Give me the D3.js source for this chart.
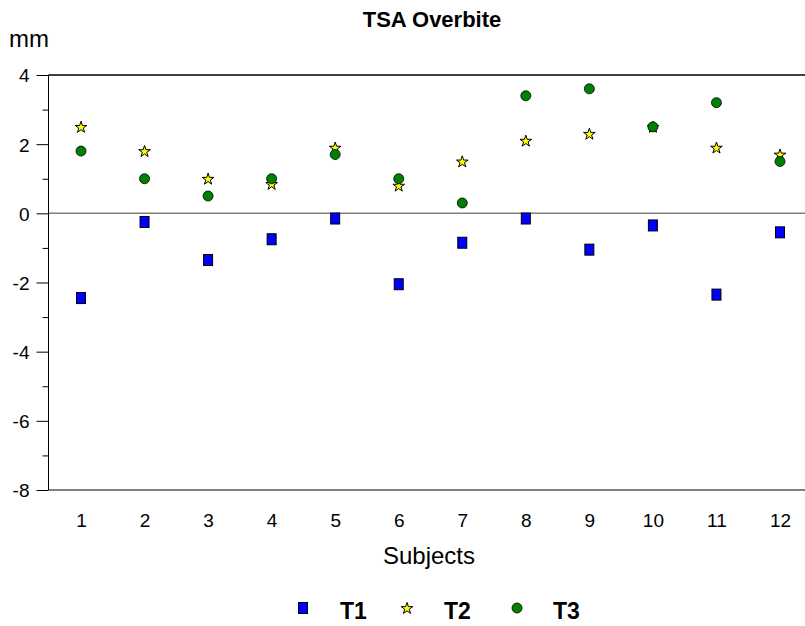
<!DOCTYPE html>
<html><head><meta charset="utf-8">
<script src="https://cdn.jsdelivr.net/npm/d3@7"></script>
<style>body{margin:0;background:#fff}svg{display:block;font-family:"Liberation Sans",Arial,sans-serif}</style>
</head><body>
<script>
const subjects = [1,2,3,4,5,6,7,8,9,10,11,12];
const t1 = [-2.45,-0.25,-1.35,-0.75,-0.15,-2.05,-0.85,-0.15,-1.05,-0.35,-2.35,-0.55];
const t2 = [2.5,1.8,1.0,0.85,1.9,0.8,1.5,2.1,2.3,2.5,1.9,1.7];
const t3 = [1.8,1.0,0.5,1.0,1.7,1.0,0.3,3.4,3.6,2.5,3.2,1.5];
const yMajor = [4,2,0,-2,-4,-6,-8];
const yMinor = [3,1,-1,-3,-5,-7];
const seriesNames = ["T1","T2","T3"];

const W=805,H=626;
const FF="Liberation Sans, Arial, sans-serif";
const svg=d3.select("body").append("svg").attr("width",W).attr("height",H);
const x=d3.scalePoint().domain(subjects).range([81,780]);
const y=d3.scaleLinear().domain([-8,4]).range([490,75]);
const axL=48.5;

// top border
svg.append("line").attr("x1",axL).attr("x2",W).attr("y1",y(4)).attr("y2",y(4)).attr("stroke","#000").attr("stroke-width",1.5);
// zero line
svg.append("line").attr("x1",axL).attr("x2",W).attr("y1",y(0)).attr("y2",y(0)).attr("stroke","#808080").attr("stroke-width",1.5);
// bottom line
svg.append("line").attr("x1",axL).attr("x2",W).attr("y1",y(-8)).attr("y2",y(-8)).attr("stroke","#808080").attr("stroke-width",2);

// y axis
const ya=svg.append("g").attr("transform",`translate(${axL},0)`)
  .call(d3.axisLeft(y).tickValues(yMajor).tickSize(12).tickPadding(7).tickFormat(d=>String(d)));
ya.select(".domain").attr("stroke","#000").attr("d",`M0,${y(4)}V${y(-8)}`);
ya.selectAll("text").attr("font-size",19).attr("fill","#000").attr("font-family",FF).attr("dy","0.36em");
ya.selectAll(".tick line").attr("stroke","#000");
svg.append("g").attr("transform",`translate(${axL},0)`)
  .call(d3.axisLeft(y).tickValues(yMinor).tickSize(6).tickFormat(""))
  .call(g=>g.select(".domain").remove())
  .selectAll("line").attr("stroke","#000");

// x axis labels
const xa=svg.append("g").attr("transform",`translate(0,${y(-8)})`)
  .call(d3.axisBottom(x).tickSize(0).tickPadding(0));
xa.select(".domain").remove();
xa.selectAll("text").attr("font-size",19).attr("fill","#000").attr("font-family",FF).attr("dy",null).attr("y",37);

// titles
svg.append("text").attr("x",432).attr("y",27).attr("text-anchor","middle").attr("font-size",22).attr("font-weight","bold").attr("font-family",FF).text("TSA Overbite");
svg.append("text").attr("x",9).attr("y",47).attr("font-size",24).attr("font-family",FF).text("mm");
svg.append("text").attr("x",429).attr("y",564).attr("text-anchor","middle").attr("font-size",24).attr("font-family",FF).text("Subjects");

const star=d3.symbol().type(d3.symbolStar).size(42);
function drawSq(g,cx,cy){g.append("rect").attr("x",cx-4.5).attr("y",cy-5.5).attr("width",9).attr("height",11).attr("fill","#0000ff").attr("stroke","#000").attr("stroke-width",1);}
function drawStar(g,cx,cy){g.append("path").attr("d",star()).attr("transform",`translate(${cx},${cy+0.5})`).attr("fill","#ffff00").attr("stroke","#000").attr("stroke-width",1);}
function drawCirc(g,cx,cy){g.append("circle").attr("cx",cx).attr("cy",cy).attr("r",5).attr("fill","#008000").attr("stroke","#000").attr("stroke-width",0.8);}

const pts=svg.append("g");
subjects.forEach((s,i)=>drawSq(pts,x(s),y(t1[i])));
subjects.forEach((s,i)=>drawStar(pts,x(s),y(t2[i])));
subjects.forEach((s,i)=>drawCirc(pts,x(s),y(t3[i])));

// legend
const lg=svg.append("g");
const ly=608;
const legendX=[303,407,517];
const textX=[340,444,553];
const drawers=[drawSq,drawStar,drawCirc];
seriesNames.forEach((n,i)=>{
  drawers[i](lg,legendX[i],ly);
  lg.append("text").attr("x",textX[i]).attr("y",ly+11).attr("font-size",23).attr("font-weight","bold").attr("font-family",FF).text(n);
});
</script>
</body></html>
